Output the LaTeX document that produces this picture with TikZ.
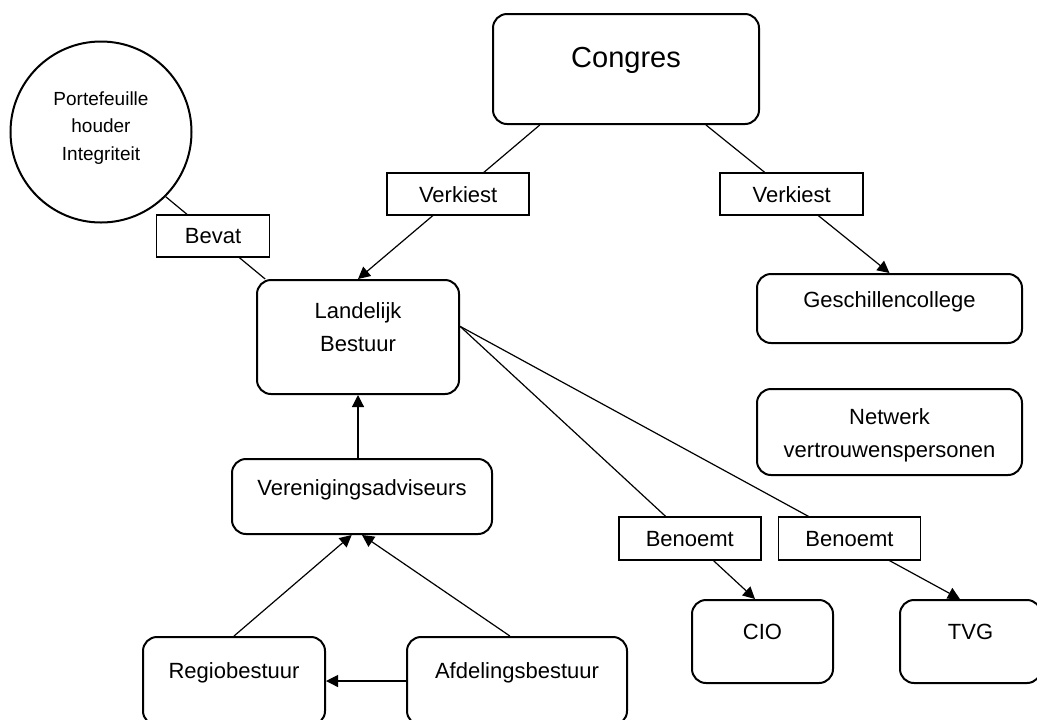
\documentclass[tikz,border=0pt]{standalone}
\usepackage{fontspec}
\setmainfont{Liberation Sans}
\usetikzlibrary{positioning,arrows.meta}

\begin{document}
\begin{tikzpicture}[x=0.5pt, y=-0.5pt,
		box/.style={draw, line width=1pt, rounded corners=7pt, align=center, inner sep=0pt,
			font=\fontsize{11}{16.5}\selectfont, text height=8pt},
		lbl/.style={draw, fill=white, line width=0.8pt, inner sep=0pt, minimum height=21pt,
			font=\fontsize{11}{16.5}\selectfont, text height=8pt, text depth=0pt},
		con/.style={line width=0.6pt},
		arr/.style={con, -{Triangle[length=6pt, width=6pt]}}]
		\useasboundingbox (0,0) rectangle (1037,719);
		\clip (0,0) rectangle (1037,719);
		\node (congres) [box, minimum width=133pt, minimum height=55pt, font=\fontsize{14.5}{17}\selectfont,
			text height=10.5pt, text depth=12.1pt] at (626,69) {Congres};
		\node (port) [draw, circle, line width=1pt, minimum size=90.5pt, inner sep=0pt, text width=60pt, align=center,
			font=\fontsize{9.5}{13.75}\selectfont, text height=7pt, text depth=33.7pt] at (101,132) {Portefeuille\\houder\\Integriteit};
		\node (land) [box, minimum width=101pt, minimum height=57pt, text width=80pt, text depth=26.6pt] at (358,337) {Landelijk\\Bestuur};
		\node (gesch) [box, minimum width=132.5pt, minimum height=34.5pt, text depth=8.6pt] at (889.5,308.5) {Geschillencollege};
		\node (netw) [box, below=22pt of gesch, minimum width=132.5pt, minimum height=43pt, text width=125pt, text depth=15.6pt] {Netwerk\\vertrouwenspersonen};
		\node (ver) [box, below=31.5pt of land, xshift=2pt, minimum width=130pt, minimum height=37.5pt, text depth=8.6pt] {Verenigingsadviseurs};
		\node (regio) [box, minimum width=91pt, minimum height=44pt, text depth=10.1pt] at (234,681) {Regiobestuur};
		\node (afd) [box, right=40pt of regio, minimum width=110pt, minimum height=44pt, text depth=10.1pt] {Afdelingsbestuur};
		\node (cio) [box, minimum width=70.5pt, minimum height=41.5pt, text depth=10.1pt] at (762.5,641.5) {CIO};
		\node (tvg) [box, right=32.5pt of cio, minimum width=70.5pt, minimum height=41.5pt, text depth=10.1pt] {TVG};
		\draw[arr] (congres.213) -- node[lbl, pos=0.449, minimum width=71pt] (vk1) {Verkiest} (land.north);
		\draw[arr] (congres.325) -- node[lbl, pos=0.467, minimum width=71.5pt] (vk2) {Verkiest} (gesch.north);
		\draw[con] (port.315) -- node[lbl, pos=0.476, minimum width=56.5pt] (bevat) {Bevat} (land.148);
		\draw[arr] (land.6) -- node[lbl, pos=0.779, minimum width=71pt, minimum height=21.5pt] (ben1) {Benoemt} (cio.100);
		\draw[arr] (land.6) -- node[lbl, pos=0.779, minimum width=71pt, minimum height=21.5pt] (ben2) {Benoemt} (tvg.104);
		\draw[arr] (land.south |- ver.north) -- (land.south);
		\draw[arr] (regio.north) -- (ver.255);
		\draw[arr] (afd.99) -- (ver.south);
		\draw[arr] (afd.west) -- (regio.east);
\end{tikzpicture}
\end{document}
